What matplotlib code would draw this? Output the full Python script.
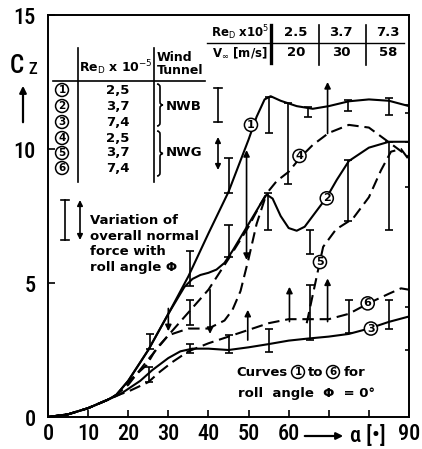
import matplotlib
matplotlib.use("Agg")
import matplotlib.pyplot as plt
from matplotlib import font_manager
from matplotlib.font_manager import FontProperties
from matplotlib.path import Path
from matplotlib.patches import PathPatch, FancyArrowPatch
from matplotlib.lines import Line2D

# ---------------------------------------------------------------- data
# normal force coefficient Cz versus angle of attack alpha [deg], roll angle 0
alpha_1 = [0, 5, 10, 15, 17, 20, 25, 30, 35, 40, 45, 50, 52, 54, 55.5, 58, 62, 66, 70, 75, 80, 85, 90]
cz_1 = [0, 0.1, 0.33, 0.65, 0.82, 1.35, 2.5, 3.85, 5.25, 6.85, 8.4, 10.35, 11.2, 11.85, 11.97, 11.8, 11.6, 11.5, 11.6, 11.78, 11.85, 11.8, 11.6]

alpha_2 = [0, 5, 10, 15, 17, 20, 25, 30, 34, 36, 38, 40, 42, 44, 46, 48, 50, 53, 54.5, 56, 58, 60, 62, 64, 66, 69.5, 72, 75, 80, 85, 90]
cz_2 = [0, 0.1, 0.33, 0.65, 0.82, 1.35, 2.5, 3.85, 4.85, 5.15, 5.3, 5.38, 5.5, 5.75, 6.2, 6.7, 7.2, 7.95, 8.3, 8.15, 7.5, 7.05, 6.95, 7.1, 7.5, 8.2, 8.85, 9.55, 10.05, 10.27, 10.27]

alpha_3 = [0, 5, 10, 15, 18, 20, 23, 26, 30, 33, 36, 40, 45, 50, 55, 60, 65, 70, 75, 80, 85, 90]
cz_3 = [0, 0.1, 0.33, 0.65, 0.85, 1.05, 1.35, 1.75, 2.2, 2.45, 2.55, 2.55, 2.5, 2.6, 2.72, 2.85, 2.93, 3.0, 3.1, 3.3, 3.55, 3.75]

alpha_4 = [0, 5, 10, 15, 17, 20, 25, 30, 35, 40, 45, 50, 53, 54.5, 57, 60, 63, 66, 70, 75, 80, 85, 90]
cz_4 = [0, 0.1, 0.33, 0.65, 0.82, 1.2, 2.15, 3.05, 3.9, 4.75, 5.9, 7.1, 7.95, 8.34, 8.8, 9.15, 9.7, 10.15, 10.6, 10.9, 10.8, 10.25, 9.7]

# curve 5 has a break between the two branches (None leaves a gap)
alpha_5 = [0, 5, 10, 15, 17, 21, 24.6, 27, 30, 35, 40, 44, 46, 48, 50, 52, 54.5, None, 64.5, 65.5, 66.5, 67.5, 68.6, 71.8, 76, 80, 83, 85.5, 88, 90]
cz_5 = [0, 0.1, 0.33, 0.65, 0.82, 1.45, 1.94, 2.55, 3.05, 3.3, 3.3, 3.6, 4.0, 4.7, 5.9, 7.2, 8.34, None, 3.5, 4.2, 4.9, 5.6, 6.35, 7.0, 7.4, 8.2, 9.2, 9.9, 10.0, 9.6]

alpha_6 = [0, 5, 10, 15, 18, 20, 25, 28, 31, 35, 40, 45, 50, 55, 60, 65, 70, 75, 80, 85, 88, 90]
cz_6 = [0, 0.1, 0.33, 0.65, 0.85, 0.95, 1.3, 1.7, 2.05, 2.45, 2.75, 3.0, 3.25, 3.5, 3.65, 3.65, 3.65, 3.85, 4.25, 4.6, 4.8, 4.75]

# variation of Cz with roll angle, wind tunnel NWB (bars)
bar_alpha = [25.2, 25.4, 35.4, 35.4, 35.4, 45.0, 45.0, 45.2, 55.2, 54.9, 55.2, 59.9, 64.8, 65.2, 65.2, 74.7, 74.9, 75.1, 84.9, 85.1, 85.1, 89.9, 90.0, 90.0]
bar_low = [1.3, 2.55, 4.9, 3.45, 2.4, 8.36, 5.97, 2.37, 10.6, 6.98, 2.44, 8.7, 11.2, 6.1, 2.87, 11.4, 7.3, 3.12, 6.98, 11.27, 3.3, 8.6, 11.33, 2.5]
bar_high = [1.88, 3.1, 6.2, 4.37, 2.72, 9.66, 7.16, 3.05, 11.95, 8.34, 3.3, 11.7, 11.58, 6.98, 4.93, 11.83, 9.6, 4.37, 10.27, 11.9, 4.37, 10.27, 11.64, 4.1]

# variation of Cz with roll angle, wind tunnel NWG (arrows, from -> to)
arrow_alpha = [30.0, 40.4, 49.5, 49.5, 49.8, 60.2, 69.7, 69.7]
arrow_from = [4.05, 4.75, 7.1, 7.1, 2.87, 3.56, 3.56, 10.58]
arrow_to = [3.2, 3.1, 9.96, 5.86, 4.0, 4.86, 5.17, 12.5]

curve_labels = ["1", "2", "3", "4", "5", "6"]
label_alpha = [50.6, 69.5, 80.5, 62.7, 67.8, 79.7]
label_cz = [10.9, 8.16, 3.3, 9.74, 5.78, 4.24]

x_ticks = [0, 10, 20, 30, 40, 50, 60, 70, 80, 90]
x_ticklabels = ["0", "10", "20", "30", "40", "50", "60", "", "", "90"]
y_ticks = [0, 5, 10, 15]

table_re = ["2,5", "3,7", "7,4", "2,5", "3,7", "7,4"]
tunnel_re = ["2.5", "3.7", "7.3"]
tunnel_v = ["20", "30", "58"]


# ---------------------------------------------------------------- fonts
def narrow_font(weights):
    fl = font_manager.fontManager.ttflist
    prefs = ["Liberation Sans Narrow", "Roboto Condensed", "Open Sans Condensed",
             "Noto Sans Condensed", "Arial Narrow"]
    for w in weights:
        for p in prefs:
            for f in fl:
                if f.name == p and f.style == "normal" and f.weight == w:
                    return f.fname
    for w in weights:
        for f in fl:
            cond = f.stretch in ("condensed", "semi-condensed", "extra-condensed") \
                or "Condensed" in f.name or "Narrow" in f.name
            if cond and f.style == "normal" and "Mono" not in f.name and "Serif" not in f.name \
                    and f.weight == w:
                return f.fname
    return None


narrow_file = narrow_font([500, 600, 700, 400, "normal", "regular"])
if narrow_file:
    tick_fp = FontProperties(fname=narrow_file, size=16)
    alpha_fp = FontProperties(fname=narrow_file, size=16)
    cz_fp = FontProperties(fname=narrow_file, size=18)
    z_fp = FontProperties(fname=narrow_file, size=12)
else:
    tick_fp = FontProperties(family="DejaVu Sans", size=13.5)
    alpha_fp = FontProperties(family="DejaVu Sans", size=13.5)
    cz_fp = FontProperties(family="DejaVu Sans", size=16)
    z_fp = FontProperties(family="DejaVu Sans", size=10.5)
plt.rcParams["font.family"] = ["DejaVu Sans"]

# ---------------------------------------------------------------- figure
W, H = 422, 449
fig = plt.figure(figsize=(W / 100, H / 100), dpi=100)
ax = fig.add_axes([48 / W, 1 - 417 / H, (409 - 48) / W, (417 - 15) / H])
ax.set_xlim(0, 90)
ax.set_ylim(0, 15)
for s in ax.spines.values():
    s.set_linewidth(1.4)

ax.set_xticks(x_ticks)
ax.set_xticklabels(x_ticklabels)
ax.set_yticks(y_ticks)
ax.tick_params(direction="in", length=5, width=1.2, pad=4)
ax.tick_params(axis="y", pad=9)
for t in ax.get_xticklabels() + ax.get_yticklabels():
    t.set_fontproperties(tick_fp)

LW = 1.5
DASH = (0, (5.5, 2.8))
ax.plot(alpha_1, cz_1, color="k", lw=LW)
ax.plot(alpha_2, cz_2, color="k", lw=LW)
ax.plot(alpha_3, cz_3, color="k", lw=LW)
ax.plot(alpha_4, cz_4, color="k", lw=LW, ls=DASH)
a5 = [float("nan") if v is None else v for v in alpha_5]
c5 = [float("nan") if v is None else v for v in cz_5]
ax.plot(a5, c5, color="k", lw=LW, ls=DASH)
ax.plot(alpha_6, cz_6, color="k", lw=LW, ls=DASH)

# roll angle variation bars
cap = 1.0
ax.vlines(bar_alpha, bar_low, bar_high, color="k", lw=1.2)
ax.hlines(bar_low, [a - cap for a in bar_alpha], [a + cap for a in bar_alpha], color="k", lw=1.2)
ax.hlines(bar_high, [a - cap for a in bar_alpha], [a + cap for a in bar_alpha], color="k", lw=1.2)

for a, f, t in zip(arrow_alpha, arrow_from, arrow_to):
    ax.annotate("", xy=(a, t), xytext=(a, f),
                arrowprops=dict(arrowstyle="-|>", color="k", lw=1.2,
                                mutation_scale=9, shrinkA=0, shrinkB=0))

circ = dict(boxstyle="circle,pad=0.14", fc="white", ec="black", lw=1.1)
for lab, a, c in zip(curve_labels, label_alpha, label_cz):
    ax.text(a, c, lab, ha="center", va="center", fontsize=8, fontweight="bold", bbox=circ)


# ---------------------------------------------------------------- annotations in pixel coordinates
def P(x, y):
    return (x / W, 1 - y / H)


def line(x0, y0, x1, y1, lw=1.2, **kw):
    fig.add_artist(Line2D([x0 / W, x1 / W], [1 - y0 / H, 1 - y1 / H], color="k", lw=lw,
                          transform=fig.transFigure, **kw))


def ftext(x, y, s, **kw):
    if "fontproperties" not in kw:
        kw.setdefault("fontsize", 9.5)
        kw.setdefault("fontweight", "bold")
    kw.setdefault("va", "center")
    fig.text(*P(x, y), s, **kw)


def brace(x, y0, y1, w=6):
    ym = (y0 + y1) / 2
    pts = [P(x, y0), P(x + w / 2, y0), P(x + w / 2, y0 + 3),
           P(x + w / 2, ym - 3), P(x + w / 2, ym), P(x + w, ym),
           P(x + w / 2, ym), P(x + w / 2, ym + 3),
           P(x + w / 2, y1 - 3), P(x + w / 2, y1), P(x, y1)]
    codes = [Path.MOVETO, Path.CURVE3, Path.CURVE3, Path.LINETO, Path.CURVE3, Path.CURVE3,
             Path.CURVE3, Path.CURVE3, Path.LINETO, Path.CURVE3, Path.CURVE3]
    fig.add_artist(PathPatch(Path(pts, codes), fc="none", ec="k", lw=1.2, transform=fig.transFigure))


def varbar(x, y0, y1, cap_px=4):
    line(x, y0, x, y1)
    line(x - cap_px, y0, x + cap_px, y0)
    line(x - cap_px, y1, x + cap_px, y1)


def vararrow(x, y0, y1):
    fig.add_artist(FancyArrowPatch(P(x, y1), P(x, y0), arrowstyle="<|-|>", mutation_scale=8,
                                   lw=1.2, color="k", transform=fig.transFigure,
                                   shrinkA=0, shrinkB=0))


# axis titles
ftext(10, 66, "C", fontproperties=cz_fp)
ftext(28, 70, "Z", fontproperties=z_fp)
fig.add_artist(FancyArrowPatch(P(23, 125), P(23, 83), arrowstyle="-|>", mutation_scale=10,
                               lw=1.6, color="k", transform=fig.transFigure))
fig.add_artist(FancyArrowPatch(P(302, 436), P(346, 436), arrowstyle="-|>", mutation_scale=10,
                               lw=1.6, color="k", transform=fig.transFigure))
ftext(350, 436, "α [•]", fontproperties=alpha_fp)

# legend table
line(78, 48, 78, 182)
line(154, 48, 154, 182)
line(53, 81, 205, 81)
ftext(116, 68, r"Re$_\mathrm{D}$ x 10$^{-5}$", ha="center", fontsize=9)
ftext(157, 64, "Wind\nTunnel", ha="left", fontsize=9, linespacing=1.0)
row_y = [90, 106, 122, 138, 153, 168]
for lab, val, y in zip(curve_labels, table_re, row_y):
    ftext(62, y, lab, ha="center", fontsize=7.5, bbox=circ)
    ftext(118, y, val, ha="center")
brace(157, 84, 126)
brace(157, 131, 176)
ftext(166, 106, "NWB", ha="left")
ftext(166, 153, "NWG", ha="left")
varbar(218, 88, 122)
vararrow(218, 137, 170)

# Reynolds number / velocity table
line(207, 43, 404, 43, lw=1.0)
line(271, 25, 271, 63, lw=2.4)
line(319, 25, 319, 65, lw=1.2)
line(366, 25, 366, 65, lw=1.2)
ftext(240, 33, r"Re$_\mathrm{D}$ x10$^5$", ha="center", fontsize=8.5)
ftext(240, 53, r"V$_\infty$ [m/s]", ha="center", fontsize=8.5)
for x, r, v in zip([296, 341, 388], tunnel_re, tunnel_v):
    ftext(x, 33, r, ha="center")
    ftext(x, 53, v, ha="center")

# key to the variation symbols
varbar(65, 200, 240)
vararrow(80, 200, 240)
ftext(90, 214, "Variation of\noverall normal\nforce with\nroll angle Φ", ha="left", va="top",
      linespacing=1.25)

# note on roll angle
ftext(236, 372, "Curves", ha="left")
ftext(298, 372, "1", ha="center", fontsize=7.5, bbox=circ)
ftext(316, 372, "to", ha="center")
ftext(333, 372, "6", ha="center", fontsize=7.5, bbox=circ)
ftext(344, 372, "for", ha="left")
ftext(238, 393, "roll  angle  Φ  = 0°", ha="left")

fig.savefig("out.png", dpi=100)
